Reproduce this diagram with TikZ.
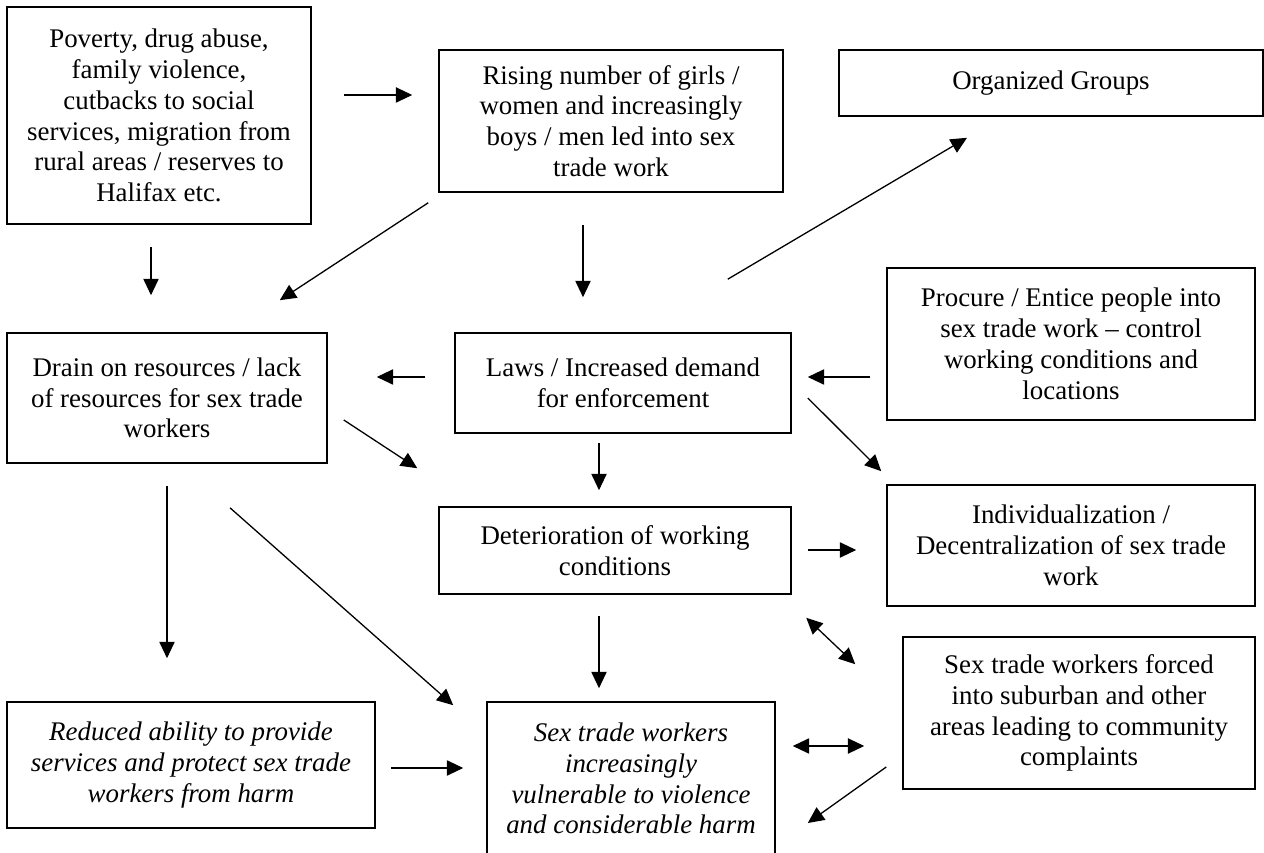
\documentclass[tikz,border=0pt]{standalone}
\usepackage{fontspec}
\setmainfont{Liberation Serif}
\usetikzlibrary{arrows.meta}

\begin{document}
\begin{tikzpicture}[
  x=0.0162cm, y=-0.0162cm,
  >={Triangle[length=7.5pt,width=7pt]},
  box/.style={draw, line width=0.75pt, align=center, inner sep=2pt,
    font=\fontsize{12.4}{14.2}\selectfont},
  boxit/.style={box, font=\fontsize{12.4}{14.2}\selectfont\itshape},
  flow/.style={->, line width=0.6pt},
  both/.style={<->, line width=0.6pt},
]
\useasboundingbox (0,0) rectangle (1264,853);

% ---------- top row ----------
\node[box, minimum width=4.925cm, minimum height=3.515cm] (causes) at (159,115.5)
  {Poverty, drug abuse,\\family violence,\\cutbacks to social\\services, migration from\\rural areas / reserves to\\Halifax etc.};
\node[box, minimum width=5.573cm, minimum height=2.300cm] (rising) at (611,121)
  {Rising number of girls /\\women and increasingly\\boys / men led into sex\\trade work};
\node[box, minimum width=6.869cm, minimum height=1.069cm] (groups) at (1051,83)
  {Organized Groups};

% ---------- middle rows ----------
\node[box, minimum width=5.184cm, minimum height=2.106cm] (drain) at (167,398)
  {Drain on resources / lack\\of resources for sex trade\\workers};
\node[box, minimum width=5.443cm, minimum height=1.620cm] (laws) at (623,383)
  {Laws / Increased demand\\for enforcement};
\node[box, minimum width=5.962cm, minimum height=2.462cm] (procure) at (1071,344)
  {Procure / Entice people into\\sex trade work – control\\working conditions and\\locations};
\node[box, minimum width=5.702cm, minimum height=1.409cm] (deter) at (615,550.5)
  {Deterioration of working\\conditions};
\node[box, minimum width=5.962cm, minimum height=1.960cm] (indiv) at (1071,545.5)
  {Individualization /\\Decentralization of sex trade\\work};

% ---------- bottom row ----------
\node[box, minimum width=5.702cm, minimum height=2.462cm] (forced) at (1079,713)
  {Sex trade workers forced\\into suburban and other\\areas leading to community\\complaints};
\node[boxit, minimum width=5.962cm, minimum height=2.041cm] (reduced) at (191,765)
  {Reduced ability to provide\\services and protect sex trade\\workers from harm};
\node[boxit, minimum width=4.666cm, minimum height=2.479cm] (vuln) at (631,778.5)
  {Sex trade workers\\increasingly\\vulnerable to violence\\and considerable harm};

% ---------- arrows ----------
\draw[flow] ([shift={(32,-20.5)}]causes.east) -- ([shift={(-26,-26)}]rising.west);
\draw[flow] ([shift={(-8,22)}]causes.south) -- ([shift={(-16,-37)}]drain.north);
\draw[flow] ([shift={(-10,10)}]rising.south west) -- ([shift={(-48,-32)}]drain.north east);
\draw[flow] ([shift={(-28,32)}]rising.south) -- ([shift={(-40,-35)}]laws.north);
\draw[flow] ([shift={(-64,-53)}]laws.north east) -- ([shift={(-84,21)}]groups.south);
\draw[flow] ([shift={(-29,-6)}]laws.west) -- ([shift={(49,-21)}]drain.east);
\draw[flow] ([shift={(-16,33)}]procure.west) -- ([shift={(16,-6)}]laws.east);
\draw[flow] ([shift={(16,22)}]drain.east) -- ([shift={(-21,-38)}]deter.north west);
\draw[flow] ([shift={(16,15)}]laws.east) -- ([shift={(-5,-13)}]indiv.north west);
\draw[flow] ([shift={(-24,9)}]laws.south) -- ([shift={(-16,-16)}]deter.north);
\draw[flow] ([shift={(16,-0.5)}]deter.east) -- ([shift={(-30,4.5)}]indiv.west);
\draw[flow] ([shift={(0,22)}]drain.south) -- ([shift={(-24,-43)}]reduced.north);
\draw[flow] ([shift={(63,44)}]drain.south) -- ([shift={(-33,4)}]vuln.north west);
\draw[flow] ([shift={(-16,21)}]deter.south) -- ([shift={(-32,-13)}]vuln.north);
\draw[both] ([shift={(-80,11)}]indiv.south west) -- ([shift={(-47,28)}]forced.north west);
\draw[flow] ([shift={(15,3)}]reduced.east) -- ([shift={(-23,-10.5)}]vuln.west);
\draw[both] ([shift={(17,-32.5)}]vuln.east) -- ([shift={(-38,33)}]forced.west);
\draw[flow] ([shift={(-16,54)}]forced.west) -- ([shift={(32,44.5)}]vuln.east);

\end{tikzpicture}
\end{document}
